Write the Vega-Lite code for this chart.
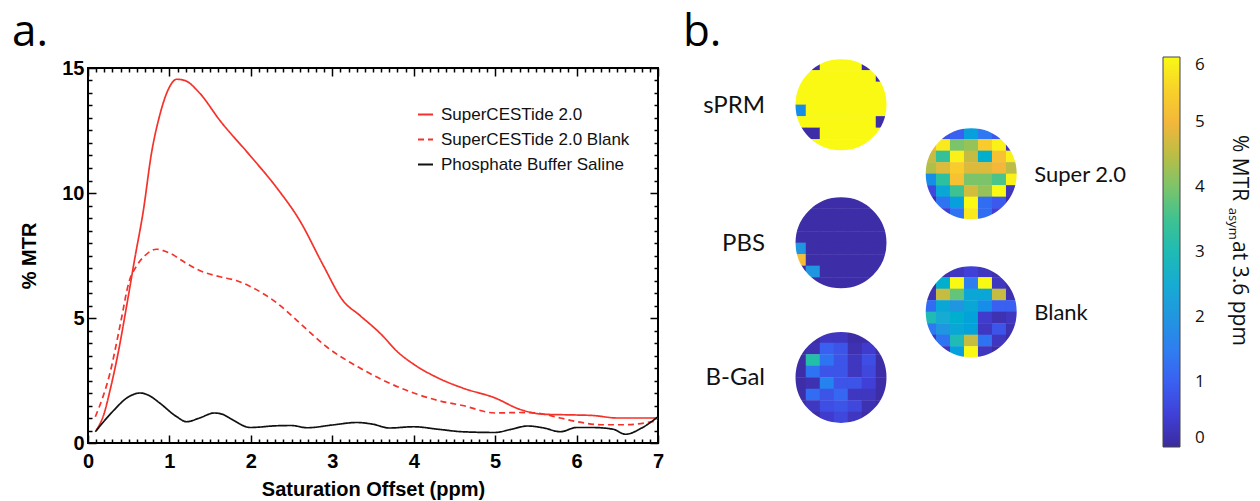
{
  "$schema": "https://vega.github.io/schema/vega-lite/v6.json",
  "autosize": {"type": "pad"},
  "padding": {"left": 11, "top": -6, "right": 4, "bottom": 0},
  "background": "white",
  "bounds": "flush",
  "spacing": 36,
  "config": {"view": {"stroke": null}, "font": "Liberation Sans"},
  "datasets": {
    "lines": [
      {"s": "SuperCESTide 2.0", "x": 0.1, "y": 0.5},
      {"s": "SuperCESTide 2.0", "x": 0.2, "y": 1.2},
      {"s": "SuperCESTide 2.0", "x": 0.27, "y": 2.1},
      {"s": "SuperCESTide 2.0", "x": 0.37, "y": 3.6},
      {"s": "SuperCESTide 2.0", "x": 0.47, "y": 5.4},
      {"s": "SuperCESTide 2.0", "x": 0.57, "y": 7.3},
      {"s": "SuperCESTide 2.0", "x": 0.68, "y": 9.3},
      {"s": "SuperCESTide 2.0", "x": 0.78, "y": 11.6},
      {"s": "SuperCESTide 2.0", "x": 0.88, "y": 13.1},
      {"s": "SuperCESTide 2.0", "x": 0.98, "y": 14.1},
      {"s": "SuperCESTide 2.0", "x": 1.09, "y": 14.55},
      {"s": "SuperCESTide 2.0", "x": 1.19, "y": 14.5},
      {"s": "SuperCESTide 2.0", "x": 1.37, "y": 14.0},
      {"s": "SuperCESTide 2.0", "x": 1.62, "y": 12.9},
      {"s": "SuperCESTide 2.0", "x": 1.99, "y": 11.5},
      {"s": "SuperCESTide 2.0", "x": 2.32, "y": 10.2},
      {"s": "SuperCESTide 2.0", "x": 2.6, "y": 8.9},
      {"s": "SuperCESTide 2.0", "x": 2.89, "y": 7.1},
      {"s": "SuperCESTide 2.0", "x": 3.13, "y": 5.7},
      {"s": "SuperCESTide 2.0", "x": 3.34, "y": 5.1},
      {"s": "SuperCESTide 2.0", "x": 3.6, "y": 4.35},
      {"s": "SuperCESTide 2.0", "x": 3.8, "y": 3.65},
      {"s": "SuperCESTide 2.0", "x": 4.0, "y": 3.15},
      {"s": "SuperCESTide 2.0", "x": 4.3, "y": 2.6},
      {"s": "SuperCESTide 2.0", "x": 4.6, "y": 2.2},
      {"s": "SuperCESTide 2.0", "x": 5.0, "y": 1.8},
      {"s": "SuperCESTide 2.0", "x": 5.3, "y": 1.35},
      {"s": "SuperCESTide 2.0", "x": 5.6, "y": 1.15},
      {"s": "SuperCESTide 2.0", "x": 6.0, "y": 1.12},
      {"s": "SuperCESTide 2.0", "x": 6.2, "y": 1.1},
      {"s": "SuperCESTide 2.0", "x": 6.5, "y": 1.0},
      {"s": "SuperCESTide 2.0", "x": 7.0, "y": 1.0},
      {"s": "SuperCESTide 2.0 Blank", "x": 0.09, "y": 1.05},
      {"s": "SuperCESTide 2.0 Blank", "x": 0.27, "y": 2.8},
      {"s": "SuperCESTide 2.0 Blank", "x": 0.4, "y": 4.8},
      {"s": "SuperCESTide 2.0 Blank", "x": 0.5, "y": 6.4},
      {"s": "SuperCESTide 2.0 Blank", "x": 0.6, "y": 7.1},
      {"s": "SuperCESTide 2.0 Blank", "x": 0.7, "y": 7.5},
      {"s": "SuperCESTide 2.0 Blank", "x": 0.84, "y": 7.75},
      {"s": "SuperCESTide 2.0 Blank", "x": 1.0, "y": 7.6},
      {"s": "SuperCESTide 2.0 Blank", "x": 1.2, "y": 7.2},
      {"s": "SuperCESTide 2.0 Blank", "x": 1.37, "y": 6.9},
      {"s": "SuperCESTide 2.0 Blank", "x": 1.62, "y": 6.65},
      {"s": "SuperCESTide 2.0 Blank", "x": 1.82, "y": 6.5},
      {"s": "SuperCESTide 2.0 Blank", "x": 2.03, "y": 6.2},
      {"s": "SuperCESTide 2.0 Blank", "x": 2.32, "y": 5.6},
      {"s": "SuperCESTide 2.0 Blank", "x": 2.6, "y": 4.8},
      {"s": "SuperCESTide 2.0 Blank", "x": 2.93, "y": 3.85},
      {"s": "SuperCESTide 2.0 Blank", "x": 3.34, "y": 3.0},
      {"s": "SuperCESTide 2.0 Blank", "x": 3.6, "y": 2.55},
      {"s": "SuperCESTide 2.0 Blank", "x": 4.0, "y": 2.0},
      {"s": "SuperCESTide 2.0 Blank", "x": 4.3, "y": 1.7},
      {"s": "SuperCESTide 2.0 Blank", "x": 4.6, "y": 1.5},
      {"s": "SuperCESTide 2.0 Blank", "x": 5.0, "y": 1.2},
      {"s": "SuperCESTide 2.0 Blank", "x": 5.3, "y": 1.22},
      {"s": "SuperCESTide 2.0 Blank", "x": 5.5, "y": 1.2},
      {"s": "SuperCESTide 2.0 Blank", "x": 5.8, "y": 1.0},
      {"s": "SuperCESTide 2.0 Blank", "x": 6.0, "y": 0.86},
      {"s": "SuperCESTide 2.0 Blank", "x": 6.3, "y": 0.73},
      {"s": "SuperCESTide 2.0 Blank", "x": 6.6, "y": 0.73},
      {"s": "SuperCESTide 2.0 Blank", "x": 7.0, "y": 0.9},
      {"s": "Phosphate Buffer Saline", "x": 0.09, "y": 0.45},
      {"s": "Phosphate Buffer Saline", "x": 0.3, "y": 1.25},
      {"s": "Phosphate Buffer Saline", "x": 0.5, "y": 1.85},
      {"s": "Phosphate Buffer Saline", "x": 0.64, "y": 2.0},
      {"s": "Phosphate Buffer Saline", "x": 0.75, "y": 1.9},
      {"s": "Phosphate Buffer Saline", "x": 0.88, "y": 1.6},
      {"s": "Phosphate Buffer Saline", "x": 1.09, "y": 1.05},
      {"s": "Phosphate Buffer Saline", "x": 1.21, "y": 0.85},
      {"s": "Phosphate Buffer Saline", "x": 1.37, "y": 1.0},
      {"s": "Phosphate Buffer Saline", "x": 1.55, "y": 1.2},
      {"s": "Phosphate Buffer Saline", "x": 1.65, "y": 1.15},
      {"s": "Phosphate Buffer Saline", "x": 1.78, "y": 0.92},
      {"s": "Phosphate Buffer Saline", "x": 1.99, "y": 0.62},
      {"s": "Phosphate Buffer Saline", "x": 2.32, "y": 0.69},
      {"s": "Phosphate Buffer Saline", "x": 2.5, "y": 0.7},
      {"s": "Phosphate Buffer Saline", "x": 2.69, "y": 0.61},
      {"s": "Phosphate Buffer Saline", "x": 3.0, "y": 0.72},
      {"s": "Phosphate Buffer Saline", "x": 3.3, "y": 0.82},
      {"s": "Phosphate Buffer Saline", "x": 3.5, "y": 0.75},
      {"s": "Phosphate Buffer Saline", "x": 3.7, "y": 0.6},
      {"s": "Phosphate Buffer Saline", "x": 4.0, "y": 0.65},
      {"s": "Phosphate Buffer Saline", "x": 4.3, "y": 0.55},
      {"s": "Phosphate Buffer Saline", "x": 4.6, "y": 0.45},
      {"s": "Phosphate Buffer Saline", "x": 5.0, "y": 0.42},
      {"s": "Phosphate Buffer Saline", "x": 5.2, "y": 0.55},
      {"s": "Phosphate Buffer Saline", "x": 5.4, "y": 0.68},
      {"s": "Phosphate Buffer Saline", "x": 5.6, "y": 0.6},
      {"s": "Phosphate Buffer Saline", "x": 5.8, "y": 0.45},
      {"s": "Phosphate Buffer Saline", "x": 6.0, "y": 0.62},
      {"s": "Phosphate Buffer Saline", "x": 6.2, "y": 0.62},
      {"s": "Phosphate Buffer Saline", "x": 6.45, "y": 0.55},
      {"s": "Phosphate Buffer Saline", "x": 6.6, "y": 0.35},
      {"s": "Phosphate Buffer Saline", "x": 6.8, "y": 0.6},
      {"s": "Phosphate Buffer Saline", "x": 7.0, "y": 1.05}
    ],
    "cells": [
      {"s": "sPRM", "gy": 0.5, "gx": [0.5,1.5,2.5,3.5,4.5,5.5,6.5], "v": [0.1,0.1,6,6,6,0.1,0.1]},
      {"s": "sPRM", "gy": 1.5, "gx": [0.5,1.5,2.5,3.5,4.5,5.5,6.5], "v": [6,6,6,6,6,6,0.1]},
      {"s": "sPRM", "gy": 2.5, "gx": [0.5,1.5,2.5,3.5,4.5,5.5,6.5], "v": [6,6,6,6,6,6,6]},
      {"s": "sPRM", "gy": 3.5, "gx": [0.5,1.5,2.5,3.5,4.5,5.5,6.5], "v": [6,6,6,6,6,6,6]},
      {"s": "sPRM", "gy": 4.5, "gx": [0.5,1.5,2.5,3.5,4.5,5.5,6.5], "v": [1.8,6,6,6,6,6,6]},
      {"s": "sPRM", "gy": 5.5, "gx": [0.5,1.5,2.5,3.5,4.5,5.5,6.5], "v": [6,6,6,6,6,6,0.1]},
      {"s": "sPRM", "gy": 6.5, "gx": [0.5,1.5,2.5,3.5,4.5,5.5,6.5], "v": [0.1,0.1,6,6,6,6,6]},
      {"s": "sPRM", "gy": 7.5, "gx": [0.5,1.5,2.5,3.5,4.5,5.5,6.5], "v": [0.1,6,6,6,6,6,0.1]},
      {"s": "Super 2.0", "gy": 6.5, "gx": [9.8,10.8,11.8,12.8,13.8,14.8,15.8], "v": [0.1,0.8,1.0,2.2,1.4,0.9,0.1]},
      {"s": "Super 2.0", "gy": 7.5, "gx": [9.8,10.8,11.8,12.8,13.8,14.8,15.8], "v": [5.0,5.8,4.0,4.2,5.4,5.9,0.3]},
      {"s": "Super 2.0", "gy": 8.5, "gx": [9.8,10.8,11.8,12.8,13.8,14.8,15.8], "v": [4.6,3.4,5.9,4.6,2.6,5.2,5.9]},
      {"s": "Super 2.0", "gy": 9.5, "gx": [9.8,10.8,11.8,12.8,13.8,14.8,15.8], "v": [4.4,4.8,5.4,4.8,4.8,5.0,4.5]},
      {"s": "Super 2.0", "gy": 10.5, "gx": [9.8,10.8,11.8,12.8,13.8,14.8,15.8], "v": [1.8,3.3,5.2,4.0,4.0,3.6,5.9]},
      {"s": "Super 2.0", "gy": 11.5, "gx": [9.8,10.8,11.8,12.8,13.8,14.8,15.8], "v": [0.6,2.4,3.5,4.7,4.2,6.0,0.3]},
      {"s": "Super 2.0", "gy": 12.5, "gx": [9.8,10.8,11.8,12.8,13.8,14.8,15.8], "v": [0.1,1.3,2.2,6.0,1.2,0.9,0.1]},
      {"s": "Super 2.0", "gy": 13.5, "gx": [9.8,10.8,11.8,12.8,13.8,14.8,15.8], "v": [0.1,0.5,1.3,5.8,1.2,0.5,0.1]},
      {"s": "PBS", "gy": 12.5, "gx": [0.5,1.5,2.5,3.5,4.5,5.5,6.5], "v": [0.1,0.1,0.1,0.1,0.1,0.1,0.1]},
      {"s": "PBS", "gy": 13.5, "gx": [0.5,1.5,2.5,3.5,4.5,5.5,6.5], "v": [0.1,0.1,0.1,0.1,0.1,0.1,0.1]},
      {"s": "PBS", "gy": 14.5, "gx": [0.5,1.5,2.5,3.5,4.5,5.5,6.5], "v": [0.1,0.1,0.1,0.1,0.1,0.1,0.1]},
      {"s": "PBS", "gy": 15.5, "gx": [0.5,1.5,2.5,3.5,4.5,5.5,6.5], "v": [0.1,0.1,0.1,0.1,0.1,0.1,0.1]},
      {"s": "PBS", "gy": 16.5, "gx": [0.5,1.5,2.5,3.5,4.5,5.5,6.5], "v": [2.0,0.1,0.1,0.1,0.1,0.1,0.1]},
      {"s": "PBS", "gy": 17.5, "gx": [0.5,1.5,2.5,3.5,4.5,5.5,6.5], "v": [5.1,0.1,0.1,0.1,0.1,0.1,0.1]},
      {"s": "PBS", "gy": 18.5, "gx": [0.5,1.5,2.5,3.5,4.5,5.5,6.5], "v": [0.1,2.0,0.1,0.1,0.1,0.1,0.1]},
      {"s": "PBS", "gy": 19.5, "gx": [0.5,1.5,2.5,3.5,4.5,5.5,6.5], "v": [0.1,0.1,0.1,0.1,0.1,0.1,0.1]},
      {"s": "Blank", "gy": 18.5, "gx": [9.8,10.8,11.8,12.8,13.8,14.8,15.8], "v": [0.1,0.2,0.3,0.5,0.3,0.2,0.1]},
      {"s": "Blank", "gy": 19.5, "gx": [9.8,10.8,11.8,12.8,13.8,14.8,15.8], "v": [0.1,2.6,6.0,1.5,6.0,0.3,0.1]},
      {"s": "Blank", "gy": 20.5, "gx": [9.8,10.8,11.8,12.8,13.8,14.8,15.8], "v": [0.2,4.6,3.8,2.4,2.4,4.6,0.2]},
      {"s": "Blank", "gy": 21.5, "gx": [9.8,10.8,11.8,12.8,13.8,14.8,15.8], "v": [1.2,2.4,2.0,2.4,1.8,1.0,1.0]},
      {"s": "Blank", "gy": 22.5, "gx": [9.8,10.8,11.8,12.8,13.8,14.8,15.8], "v": [3.0,2.5,2.6,2.3,0.4,0.2,0.3]},
      {"s": "Blank", "gy": 23.5, "gx": [9.8,10.8,11.8,12.8,13.8,14.8,15.8], "v": [1.4,2.0,2.4,2.3,0.3,0.8,0.2]},
      {"s": "Blank", "gy": 24.5, "gx": [9.8,10.8,11.8,12.8,13.8,14.8,15.8], "v": [0.3,1.3,3.0,4.6,1.3,0.3,0.1]},
      {"s": "Blank", "gy": 25.5, "gx": [9.8,10.8,11.8,12.8,13.8,14.8,15.8], "v": [0.1,0.3,2.2,6.0,0.3,0.1,0.1]},
      {"s": "B-Gal", "gy": 24.2, "gx": [0.5,1.5,2.5,3.5,4.5,5.5,6.5], "v": [0.1,0.1,0.3,0.3,0.1,0.1,0.1]},
      {"s": "B-Gal", "gy": 25.2, "gx": [0.5,1.5,2.5,3.5,4.5,5.5,6.5], "v": [0.1,0.2,1.0,0.8,0.2,0.4,0.1]},
      {"s": "B-Gal", "gy": 26.2, "gx": [0.5,1.5,2.5,3.5,4.5,5.5,6.5], "v": [0.1,3.2,1.3,0.8,0.3,0.7,0.1]},
      {"s": "B-Gal", "gy": 27.2, "gx": [0.5,1.5,2.5,3.5,4.5,5.5,6.5], "v": [0.1,1.3,0.8,0.8,0.3,0.6,0.1]},
      {"s": "B-Gal", "gy": 28.2, "gx": [0.5,1.5,2.5,3.5,4.5,5.5,6.5], "v": [0.1,0.2,1.6,0.8,0.8,0.5,0.1]},
      {"s": "B-Gal", "gy": 29.2, "gx": [0.5,1.5,2.5,3.5,4.5,5.5,6.5], "v": [0.1,1.2,0.8,1.1,0.3,0.3,0.1]},
      {"s": "B-Gal", "gy": 30.2, "gx": [0.5,1.5,2.5,3.5,4.5,5.5,6.5], "v": [0.1,0.3,0.7,0.8,0.6,0.2,0.1]},
      {"s": "B-Gal", "gy": 31.2, "gx": [0.5,1.5,2.5,3.5,4.5,5.5,6.5], "v": [0.1,0.1,0.4,0.6,0.3,0.1,0.1]}
    ],
    "discs": [
      {"s": "sPRM", "cx": 3.5, "cy": 4, "side": "L"},
      {"s": "Super 2.0", "cx": 12.8, "cy": 10, "side": "R"},
      {"s": "PBS", "cx": 3.5, "cy": 16, "side": "L"},
      {"s": "Blank", "cx": 12.8, "cy": 22, "side": "R"},
      {"s": "B-Gal", "cx": 3.5, "cy": 27.7, "side": "L"}
    ]
  },
  "hconcat": [
    {
      "width": 570,
      "height": 375,
      "view": {"stroke": "black", "strokeWidth": 2},
      "data": {"name": "lines"},
      "resolve": {"axis": {"x": "independent", "y": "independent"}},
      "layer": [
        {
          "mark": {"type": "line", "interpolate": "monotone", "strokeWidth": 1.7},
          "encoding": {
            "x": {
              "field": "x", "type": "quantitative",
              "scale": {"domain": [0, 7], "nice": false, "zero": false},
              "axis": {
                "orient": "bottom",
                "values": [0,0.1,0.2,0.3,0.4,0.5,0.6,0.7,0.8,0.9,1,1.1,1.2,1.3,1.4,1.5,1.6,1.7,1.8,1.9,2,2.1,2.2,2.3,2.4,2.5,2.6,2.7,2.8,2.9,3,3.1,3.2,3.3,3.4,3.5,3.6,3.7,3.8,3.9,4,4.1,4.2,4.3,4.4,4.5,4.6,4.7,4.8,4.9,5,5.1,5.2,5.3,5.4,5.5,5.6,5.7,5.8,5.9,6,6.1,6.2,6.3,6.4,6.5,6.6,6.7,6.8,6.9,7],
                "labelExpr": "datum.value % 1 === 0 ? format(datum.value, 'd') : ''",
                "tickSize": {"condition": {"test": "datum.value % 1 === 0", "value": -8}, "value": -4},
                "tickColor": "black", "tickWidth": 1.5,
                "domain": false, "grid": false,
                "labelOverlap": false, "labelFlush": false,
                "labelFont": "Liberation Sans", "labelFontWeight": "bold", "labelFontSize": 20, "labelColor": "black",
                "labelPadding": 16,
                "title": "Saturation Offset (ppm)",
                "titleFont": "Liberation Sans", "titleFontSize": 20, "titleFontWeight": "bold", "titleColor": "black",
                "titlePadding": 4
              }
            },
            "y": {
              "field": "y", "type": "quantitative",
              "scale": {"domain": [0, 15], "nice": false, "zero": false},
              "axis": {
                "orient": "left",
                "values": [0,0.5,1,1.5,2,2.5,3,3.5,4,4.5,5,5.5,6,6.5,7,7.5,8,8.5,9,9.5,10,10.5,11,11.5,12,12.5,13,13.5,14,14.5,15],
                "labelExpr": "datum.value % 5 === 0 ? format(datum.value, 'd') : ''",
                "tickSize": {"condition": {"test": "datum.value % 5 === 0", "value": -8}, "value": -4},
                "tickColor": "black", "tickWidth": 1.5,
                "domain": false, "grid": false,
                "labelOverlap": false, "labelFlush": false,
                "labelFont": "Liberation Sans", "labelFontWeight": "bold", "labelFontSize": 20, "labelColor": "black",
                "labelPadding": 12,
                "title": "% MTR",
                "titleFont": "Liberation Sans", "titleFontSize": 20, "titleFontWeight": "bold", "titleColor": "black",
                "titlePadding": 22
              }
            },
            "color": {
              "field": "s", "type": "nominal",
              "scale": {"domain": ["SuperCESTide 2.0", "SuperCESTide 2.0 Blank", "Phosphate Buffer Saline"], "range": ["#f5322a", "#f5322a", "#111111"]},
              "legend": {
                "orient": "none", "legendX": 329, "legendY": 38, "title": null, "padding": 0,
                "symbolType": "stroke", "symbolSize": 225, "symbolStrokeWidth": 2,
                "labelFont": "Liberation Sans", "labelFontSize": 17, "labelColor": "#111111", "labelOffset": 7, "labelLimit": 400, "rowPadding": 7,
                "encode": {"symbols": {"update": {"strokeDash": {"signal": "datum.value === 'SuperCESTide 2.0 Blank' ? [6, 4] : [1, 0]"}}}}
              }
            },
            "strokeDash": {
              "field": "s", "type": "nominal",
              "scale": {"domain": ["SuperCESTide 2.0", "SuperCESTide 2.0 Blank", "Phosphate Buffer Saline"], "range": [[1, 0], [6, 4], [1, 0]]},
              "legend": null
            }
          }
        },
        {
          "mark": {"type": "line", "opacity": 0},
          "encoding": {
            "detail": {"field": "s", "type": "nominal"},
            "x": {
              "field": "x", "type": "quantitative",
              "scale": {"domain": [0, 7], "nice": false, "zero": false},
              "axis": {
                "orient": "top",
                "values": [0,0.1,0.2,0.3,0.4,0.5,0.6,0.7,0.8,0.9,1,1.1,1.2,1.3,1.4,1.5,1.6,1.7,1.8,1.9,2,2.1,2.2,2.3,2.4,2.5,2.6,2.7,2.8,2.9,3,3.1,3.2,3.3,3.4,3.5,3.6,3.7,3.8,3.9,4,4.1,4.2,4.3,4.4,4.5,4.6,4.7,4.8,4.9,5,5.1,5.2,5.3,5.4,5.5,5.6,5.7,5.8,5.9,6,6.1,6.2,6.3,6.4,6.5,6.6,6.7,6.8,6.9,7],
                "labels": false,
                "tickSize": {"condition": {"test": "datum.value % 1 === 0", "value": -8}, "value": -4},
                "tickColor": "black", "tickWidth": 1.5,
                "domain": false, "grid": false, "title": null
              }
            },
            "y": {
              "field": "y", "type": "quantitative",
              "scale": {"domain": [0, 15], "nice": false, "zero": false},
              "axis": {
                "orient": "right",
                "values": [0,0.5,1,1.5,2,2.5,3,3.5,4,4.5,5,5.5,6,6.5,7,7.5,8,8.5,9,9.5,10,10.5,11,11.5,12,12.5,13,13.5,14,14.5,15],
                "labels": false,
                "tickSize": {"condition": {"test": "datum.value % 5 === 0", "value": -8}, "value": -4},
                "tickColor": "black", "tickWidth": 1.5,
                "domain": false, "grid": false, "title": null
              }
            }
          }
        },
        {
          "data": {"values": [{}]},
          "mark": {"type": "text", "align": "left", "baseline": "alphabetic", "font": "Open Sans", "fontSize": 44, "color": "black"},
          "encoding": {
            "x": {"datum": -0.933, "type": "quantitative", "scale": {"domain": [0, 7], "nice": false, "zero": false}, "axis": null},
            "y": {"datum": 15.88, "type": "quantitative", "scale": {"domain": [0, 15], "nice": false, "zero": false}, "axis": null},
            "text": {"value": "a."}
          }
        }
      ]
    },
    {
      "width": 560,
      "height": 375,
      "view": {"stroke": null},
      "layer": [
        {
          "data": {"name": "cells"},
          "transform": [{"flatten": ["gx", "v"]}],
          "mark": {"type": "point", "shape": "M-1,-0.82H1V0.82H-1Z", "size": 210, "filled": true, "opacity": 1, "strokeWidth": 0},
          "encoding": {
            "x": {"field": "gx", "type": "quantitative", "scale": {"domain": [-7, 33], "nice": false, "zero": false}, "axis": null},
            "y": {"field": "gy", "type": "quantitative", "scale": {"domain": [0.8, 33.4], "nice": false, "zero": false, "reverse": true}, "axis": null},
            "color": {
              "field": "v", "type": "quantitative",
              "scale": {"type": "linear", "domain": [0,0.5,1,1.5,2,2.5,3,3.5,4,4.5,5,5.5,6], "range": ["#3b2a9c","#4040d8","#3a60f2","#2f7ef0","#2196e0","#17abd3","#1fbbb4","#3ec291","#7cc46a","#bcbd45","#f3b73a","#f8d22a","#f9f914"]},
              "legend": {"orient": "none", "legendX": 469, "legendY": -11, "direction": "vertical", "gradientLength": 390, "gradientThickness": 17, "title": null, "padding": 0, "values": [0,1,2,3,4,5,6], "labelFont": "Open Sans", "labelFontSize": 17, "labelColor": "#111111", "labelOffset": 15, "labelBaseline": "middle", "gradientStrokeColor": "#444444", "gradientStrokeWidth": 1}
            }
          }
        },
        {
          "data": {"name": "discs"},
          "mark": {"type": "point", "shape": "circle", "size": 13689, "filled": false, "fill": null, "stroke": "white", "strokeWidth": 26, "opacity": 1},
          "encoding": {
            "x": {"field": "cx", "type": "quantitative", "scale": {"domain": [-7, 33], "nice": false, "zero": false}, "axis": null},
            "y": {"field": "cy", "type": "quantitative", "scale": {"domain": [0.8, 33.4], "nice": false, "zero": false, "reverse": true}, "axis": null}
          }
        },
        {
          "data": {"name": "discs"},
          "transform": [{"filter": "datum.side === 'L'"}],
          "mark": {"type": "text", "align": "right", "baseline": "middle", "dx": -76, "dy": 1, "font": "Lato", "fontSize": 24, "color": "#111111"},
          "encoding": {
            "x": {"field": "cx", "type": "quantitative", "scale": {"domain": [-7, 33], "nice": false, "zero": false}, "axis": null},
            "y": {"field": "cy", "type": "quantitative", "scale": {"domain": [0.8, 33.4], "nice": false, "zero": false, "reverse": true}, "axis": null},
            "text": {"field": "s"}
          }
        },
        {
          "data": {"name": "discs"},
          "transform": [{"filter": "datum.side === 'R'"}],
          "mark": {"type": "text", "align": "left", "baseline": "middle", "dx": 63, "dy": 1, "font": "Lato", "fontSize": 22, "color": "#111111"},
          "encoding": {
            "x": {"field": "cx", "type": "quantitative", "scale": {"domain": [-7, 33], "nice": false, "zero": false}, "axis": null},
            "y": {"field": "cy", "type": "quantitative", "scale": {"domain": [0.8, 33.4], "nice": false, "zero": false, "reverse": true}, "axis": null},
            "text": {"field": "s"}
          }
        },
        {
          "data": {"values": [{}]},
          "mark": {"type": "text", "angle": 90, "align": "left", "baseline": "alphabetic", "font": "Open Sans", "fontSize": 21, "color": "#111111"},
          "encoding": {
            "x": {"datum": 31.5, "type": "quantitative", "scale": {"domain": [-7, 33], "nice": false, "zero": false}, "axis": null},
            "y": {"datum": 6.62, "type": "quantitative", "scale": {"domain": [0.8, 33.4], "nice": false, "zero": false, "reverse": true}, "axis": null},
            "text": {"value": "% MTR"}
          }
        },
        {
          "data": {"values": [{}]},
          "mark": {"type": "text", "angle": 90, "align": "left", "baseline": "alphabetic", "font": "Open Sans", "fontSize": 13, "color": "#111111"},
          "encoding": {
            "x": {"datum": 31.21, "type": "quantitative", "scale": {"domain": [-7, 33], "nice": false, "zero": false}, "axis": null},
            "y": {"datum": 12.95, "type": "quantitative", "scale": {"domain": [0.8, 33.4], "nice": false, "zero": false, "reverse": true}, "axis": null},
            "text": {"value": "asym"}
          }
        },
        {
          "data": {"values": [{}]},
          "mark": {"type": "text", "angle": 90, "align": "left", "baseline": "alphabetic", "font": "Open Sans", "fontSize": 21, "color": "#111111"},
          "encoding": {
            "x": {"datum": 31.5, "type": "quantitative", "scale": {"domain": [-7, 33], "nice": false, "zero": false}, "axis": null},
            "y": {"datum": 15.85, "type": "quantitative", "scale": {"domain": [0.8, 33.4], "nice": false, "zero": false, "reverse": true}, "axis": null},
            "text": {"value": "at 3.6 ppm"}
          }
        },
        {
          "data": {"values": [{}]},
          "mark": {"type": "text", "align": "left", "baseline": "alphabetic", "font": "Open Sans", "fontSize": 44, "color": "black"},
          "encoding": {
            "x": {"datum": -7.79, "type": "quantitative", "scale": {"domain": [-7, 33], "nice": false, "zero": false}, "axis": null},
            "y": {"datum": -1.11, "type": "quantitative", "scale": {"domain": [0.8, 33.4], "nice": false, "zero": false, "reverse": true}, "axis": null},
            "text": {"value": "b."}
          }
        }
      ]
    }
  ]
}
